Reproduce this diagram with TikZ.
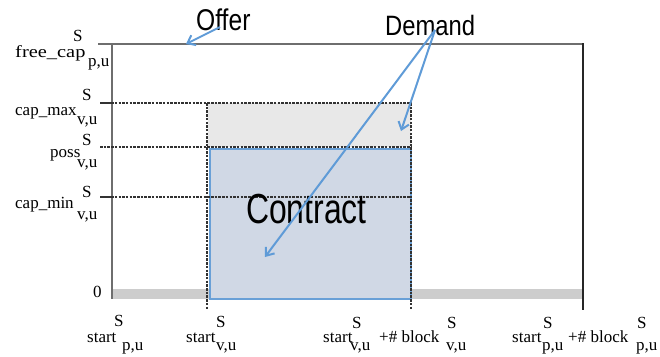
\documentclass[tikz,border=0pt]{standalone}
\usepackage{fontspec}
\setmainfont{Liberation Serif}
\newfontfamily\sansf{Liberation Sans}
\usetikzlibrary{arrows.meta}
\definecolor{axisgray}{RGB}{110,110,110}
\definecolor{bandgray}{RGB}{205,205,205}
\definecolor{capgray}{RGB}{232,232,232}
\definecolor{contractfill}{RGB}{208,216,229}
\definecolor{borderblue}{RGB}{105,160,215}
\definecolor{arrowblue}{RGB}{95,155,215}
\definecolor{dashc}{RGB}{50,50,50}
\begin{document}
\begin{tikzpicture}[x=1pt,y=-1pt,
  lbl/.style={anchor=base west, inner sep=0pt, font=\fontsize{17}{17}\selectfont},
  ann/.style={anchor=base west, inner sep=0pt},
  dline/.style={draw=dashc, line width=1.5pt, dash pattern=on 2.5pt off 1.2pt},
  tickln/.style={draw=dashc, line width=2pt},
  axisln/.style={draw=axisgray, line width=2.5pt},
  barrow/.style={draw=arrowblue, line width=2pt, -{Straight Barb[length=7pt,width=11pt]}}]
\useasboundingbox (0,0) rectangle (660,356);
% band at zero
\fill[bandgray] (112,289) rectangle (583,299);
% capacity and contract areas
\fill[capgray] (208,103) rectangle (411,147);
\filldraw[fill=contractfill, draw=borderblue, line width=1.5pt] (210,149) rectangle (411,299);
% axes
\draw[axisln] (98,44) -- (583,44);
\draw[axisln] (112,44) -- (112,299);
\draw[black!85, line width=1.5pt] (583,43) -- (583,310);
% dashed levels
\draw[dline] (100,103) -- (411,103);
\draw[dline] (100,147) -- (411,147);
\draw[dline] (100,197) -- (411,197);
\draw[tickln] (100,103) -- (113,103);
\draw[tickln] (100,197) -- (113,197);
\draw[dline] (207,103) -- (207,310);
\draw[dline] (411,103) -- (411,310);
% left labels
\node[lbl, xscale=1.2] (fcb) at (15,57) {free\_cap};
\node[lbl] (fcs) at (73,41) {S};
\node[lbl] (fcu) at (88,66) {p,u};
\node[lbl] (cxb) at (15,115) {cap\_max};
\node[lbl] (cxs) at (82,100) {S};
\node[lbl] (cxu) at (77,124) {v,u};
\node[lbl] (psb) at (50,157) {poss};
\node[lbl] (pss) at (82,145) {S};
\node[lbl] (psu) at (77,167) {v,u};
\node[lbl] (cnb) at (15,208) {cap\_min};
\node[lbl] (cns) at (82,197) {S};
\node[lbl] (cnu) at (77,219) {v,u};
\node[lbl] (zero) at (93,297) {0};
% bottom labels
\node[lbl] (s1b) at (87,342) {start};
\node[lbl] (s1s) at (114,326) {S};
\node[lbl] (s1u) at (122,350) {p,u};
\node[lbl] (s2b) at (186,342) {start};
\node[lbl] (s2s) at (216,327) {S};
\node[lbl] (s2u) at (216,350) {v,u};
\node[lbl] (s3b) at (323,342) {start};
\node[lbl] (s3s) at (352,328) {S};
\node[lbl] (s3u) at (350,350) {v,u};
\node[lbl] (b3b) at (379,342) {+\# block};
\node[lbl] (b3s) at (447,328) {S};
\node[lbl] (b3u) at (446,350) {v,u};
\node[lbl] (s4b) at (512,342) {start};
\node[lbl] (s4s) at (543,328) {S};
\node[lbl] (s4u) at (542,350) {p,u};
\node[lbl] (b4b) at (568,342) {+\# block};
\node[lbl] (b4s) at (637,328) {S};
\node[lbl] (b4u) at (636,350) {p,u};
% annotations
\node[ann, font=\sansf\fontsize{30}{30}\selectfont] (offer) at (196,30) {\scalebox{0.82}[1]{Offer}};
\node[ann, font=\sansf\fontsize{28}{28}\selectfont] (demand) at (385,35) {\scalebox{0.85}[1]{Demand}};
\node[ann, font=\sansf\fontsize{42}{42}\selectfont] (contract) at (246,223) {\scalebox{0.76}[1]{Contract}};
% arrows
\coordinate (offS) at (220,27);
\coordinate (offE) at (186,44);
\coordinate (demO) at (435,30);
\coordinate (demA) at (401,131);
\coordinate (demB) at (265,257);
\draw[barrow] (offS) -- (offE);
\draw[barrow] (demO) -- (demA);
\draw[barrow] (demO) -- (demB);
\end{tikzpicture}
\end{document}
